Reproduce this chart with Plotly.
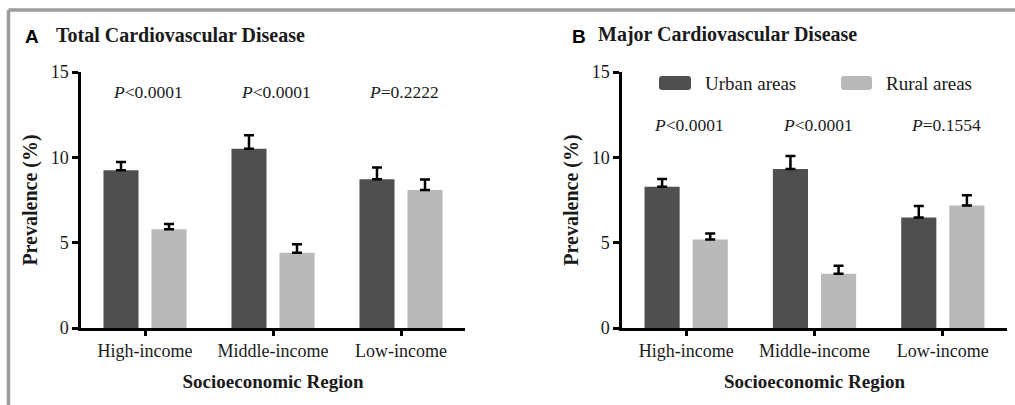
import plotly.graph_objects as go

# ---- data ----
regions = ["High-income", "Middle-income", "Low-income"]

total_urban = [9.25, 10.5, 8.72]
total_urban_err = [0.47, 0.8, 0.68]
total_rural = [5.78, 4.41, 8.08]
total_rural_err = [0.32, 0.5, 0.62]
total_p = ["<i>P</i>&lt;0.0001", "<i>P</i>&lt;0.0001", "<i>P</i>=0.2222"]

major_urban = [8.28, 9.31, 6.48]
major_urban_err = [0.45, 0.77, 0.67]
major_rural = [5.18, 3.18, 7.18]
major_rural_err = [0.35, 0.47, 0.6]
major_p = ["<i>P</i>&lt;0.0001", "<i>P</i>&lt;0.0001", "<i>P</i>=0.1554"]

y_ticks = [0, 5, 10, 15]
series_names = ["Urban areas", "Rural areas"]

# ---- style ----
W, H = 1015, 405
URBAN = "#4f4f4f"
RURAL = "#b9b9b9"
TXT = "#1a1a1a"
SERIF = "Liberation Serif"
SANS = "Liberation Sans"


def px_x(v):
    return v / W


def px_y(v):
    return 1 - v / H


fig = go.Figure()


def add_panel(urban, uerr, rural, rerr, xa, ya):
    for vals, err, col, name in ((urban, uerr, URBAN, series_names[0]),
                                 (rural, rerr, RURAL, series_names[1])):
        fig.add_trace(go.Bar(
            x=regions, y=vals, name=name, marker=dict(color=col, line=dict(width=0)),
            error_y=dict(type="data", array=err, arrayminus=[0] * len(err),
                         symmetric=False, color="black", thickness=2.5, width=5),
            xaxis=xa, yaxis=ya, showlegend=False,
        ))


add_panel(total_urban, total_urban_err, total_rural, total_rural_err, "x", "y")
add_panel(major_urban, major_urban_err, major_rural, major_rural_err, "x2", "y2")

ydom = [px_y(328), px_y(72)]
xaxis_common = dict(
    type="category", range=[-0.5, 2.5], showline=True, linecolor="black", linewidth=2.5,
    ticks="outside", ticklen=5, tickwidth=2.5, tickcolor="black",
    tickfont=dict(family=SERIF, size=18, color=TXT), showgrid=False, zeroline=False,
    title=dict(text="<b>Socioeconomic Region</b>", font=dict(family=SERIF, size=19, color=TXT),
               standoff=15),
    automargin=False,
)
yaxis_common = dict(
    range=[0, 15], tickvals=y_ticks, showline=True, linecolor="black", linewidth=2.5,
    ticks="outside", ticklen=6, tickwidth=2.5, tickcolor="black",
    tickfont=dict(family=SERIF, size=18, color=TXT), showgrid=False, zeroline=False,
    title=dict(text="<b>Prevalence (%)</b>", font=dict(family=SERIF, size=20, color=TXT),
               standoff=8),
    automargin=False, domain=ydom,
)

fig.update_layout(
    width=W, height=H, margin=dict(l=0, r=0, t=0, b=0),
    paper_bgcolor="white", plot_bgcolor="white",
    barmode="group", bargap=0.25, bargroupgap=0.27,
    xaxis=dict(xaxis_common, domain=[px_x(81), px_x(465)], anchor="y"),
    yaxis=dict(yaxis_common, anchor="x"),
    xaxis2=dict(xaxis_common, domain=[px_x(622), px_x(1007)], anchor="y2"),
    yaxis2=dict(yaxis_common, anchor="x2"),
    showlegend=False,
)

annotations = []
for xr, yr, labels, py in (("x", "y", total_p, 13.8), ("x2", "y2", major_p, 11.9)):
    for reg, lab in zip(regions, labels):
        annotations.append(dict(x=reg, y=py, xref=xr, yref=yr, text=lab, showarrow=False,
                                font=dict(family=SERIF, size=17.5, color=TXT),
                                xanchor="center", yanchor="middle", xshift=3))

# panel titles
for letter, title, lx, tx in (("A", "Total Cardiovascular Disease", 23, 54),
                              ("B", "Major Cardiovascular Disease", 570, 596)):
    annotations.append(dict(x=px_x(lx), y=px_y(36), xref="paper", yref="paper", text=f"<b>{letter}</b>",
                            showarrow=False, xanchor="left", yanchor="middle",
                            font=dict(family=SANS, size=19, color="black")))
    annotations.append(dict(x=px_x(tx), y=px_y(35), xref="paper", yref="paper", text=f"<b>{title}</b>",
                            showarrow=False, xanchor="left", yanchor="middle",
                            font=dict(family=SERIF, size=20, color=TXT)))

# legend (panel B)
shapes = []
for (x0, x1, tx), col, name in (((659, 691, 703), URBAN, series_names[0]),
                                ((841, 872, 884), RURAL, series_names[1])):
    X0, X1 = px_x(x0), px_x(x1)
    Y0, Y1 = px_y(90), px_y(76)
    rx, ry = 3 / W, 3 / H
    path = (f"M{X0+rx},{Y0} L{X1-rx},{Y0} Q{X1},{Y0} {X1},{Y0+ry} L{X1},{Y1-ry} "
            f"Q{X1},{Y1} {X1-rx},{Y1} L{X0+rx},{Y1} Q{X0},{Y1} {X0},{Y1-ry} "
            f"L{X0},{Y0+ry} Q{X0},{Y0} {X0+rx},{Y0} Z")
    shapes.append(dict(type="path", path=path, xref="paper", yref="paper",
                       fillcolor=col, line=dict(width=0)))
    annotations.append(dict(x=px_x(tx), y=px_y(83), xref="paper", yref="paper", text=name,
                            showarrow=False, xanchor="left", yanchor="middle",
                            font=dict(family=SERIF, size=19, color=TXT)))

# outer frame (top and left)
shapes.append(dict(type="line", xref="paper", yref="paper", x0=px_x(8.5), x1=1, y0=px_y(10), y1=px_y(10),
                   line=dict(color="#9c9c9c", width=3.5)))
shapes.append(dict(type="line", xref="paper", yref="paper", x0=px_x(8.5), x1=px_x(8.5), y0=px_y(10), y1=0,
                   line=dict(color="#9c9c9c", width=3.5)))

fig.update_layout(annotations=annotations, shapes=shapes)

fig.write_html("out.html", config={"displayModeBar": False},
               post_script="document.body.style.margin='0px';document.body.style.overflow='hidden';")
